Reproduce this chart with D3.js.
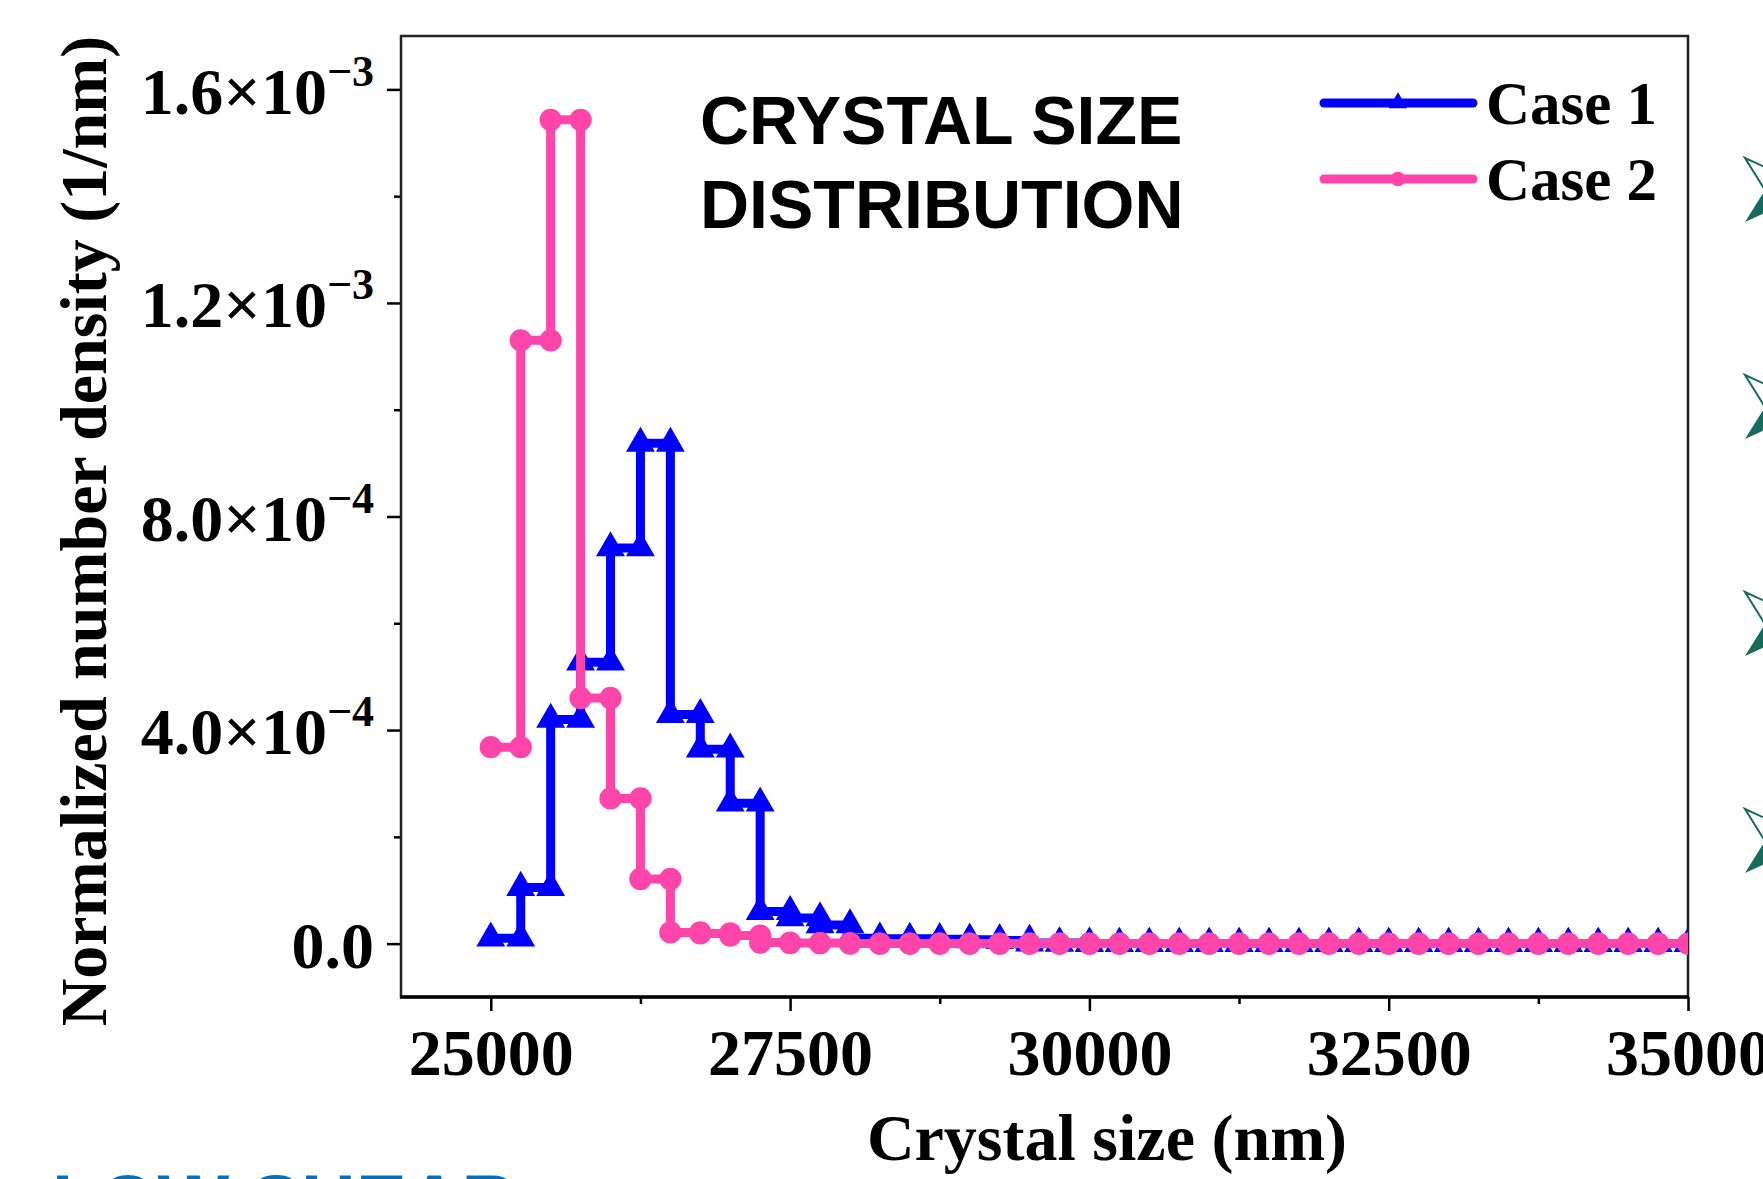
<!DOCTYPE html>
<html>
<head>
<meta charset="utf-8">
<script src="https://cdn.jsdelivr.net/npm/d3@7"></script>
<style>
  body { margin: 0; background: #fff; }
  svg { display: block; }
</style>
</head>
<body>
<div id="chart"></div>
<script>
// --- data (normalized number density, 1/nm), one value per 250 nm bin ---
const binStart = d3.range(25000, 35000, 250);   // left edges of the 40 bins
const binWidth = 250;

const case1 = [
  0.10e-4, 1.05e-4, 4.20e-4, 5.27e-4, 7.41e-4, 9.37e-4, 4.29e-4, 3.64e-4, 2.63e-4, 0.60e-4,
  0.48e-4, 0.35e-4, 0.10e-4, 0.09e-4, 0.09e-4, 0.08e-4, 0.07e-4, 0.06e-4, 0.01e-4, 0.01e-4,
  0, 0, 0, 0, 0, 0, 0, 0, 0, 0,
  0, 0, 0, 0, 0, 0, 0, 0, 0, 0
];
const case2 = [
  3.68e-4, 11.30e-4, 15.43e-4, 4.60e-4, 2.72e-4, 1.21e-4, 0.21e-4, 0.19e-4, 0.15e-4, 0.02e-4,
  0.01e-4, 0.01e-4, 0, 0, 0, 0, 0, 0, 0, 0,
  0, 0, 0, 0, 0, 0, 0, 0, 0, 0,
  0, 0, 0, 0, 0, 0, 0, 0, 0, 0
];

const seriesNames = ["Case 1", "Case 2"];
const xMajor = [25000, 27500, 30000, 32500, 35000];
const xMinor = [26250, 28750, 31250, 33750];
const yMajor = [0, 4e-4, 8e-4, 1.2e-3, 1.6e-3];
const yMinor = [2e-4, 6e-4, 1e-3, 1.4e-3];

const serif = '"Liberation Serif", "Times New Roman", Times, serif';
const sans = '"Liberation Sans", Arial, Helvetica, sans-serif';
const blue = "#0000ff";
const pink = "#ff45aa";

const W = 1763, H = 1179;
const plot = { left: 401, right: 1688, top: 36, bottom: 997 };

const svg = d3.select("#chart").append("svg")
  .attr("width", W)
  .attr("height", H);

const x = d3.scaleLinear().domain([24250, 35000]).range([plot.left, plot.right]);
const y = d3.scaleLinear().domain([-1.0e-4, 1.7e-3]).range([plot.bottom, plot.top]);

svg.append("clipPath").attr("id", "plotClip")
  .append("rect")
  .attr("x", plot.left).attr("y", plot.top)
  .attr("width", plot.right - plot.left)
  .attr("height", plot.bottom - plot.top);

// --- axes ---
function yLabel(v) {
  if (v === 0) return { m: "0.0", e: null };
  const [m, e] = v.toExponential(1).split("e");
  return { m: m, e: String(+e).replace("-", "\u2212") };
}

const yAxis = svg.append("g")
  .attr("transform", `translate(${plot.left},0)`)
  .call(d3.axisLeft(y).tickValues(yMajor).tickSize(14).tickSizeOuter(0).tickPadding(13).tickFormat(""));
yAxis.select(".domain").remove();
yAxis.selectAll(".tick line").attr("stroke", "#000").attr("stroke-width", 2.5);
yAxis.selectAll(".tick text")
  .attr("font-family", serif)
  .attr("font-weight", "bold")
  .attr("font-size", 66)
  .attr("fill", "#000")
  .attr("dy", "0.36em")
  .each(function (d) {
    const lab = yLabel(d);
    const t = d3.select(this);
    t.append("tspan").text(lab.m + (lab.e ? "\u00d710" : ""));
    if (lab.e) {
      t.append("tspan").attr("font-size", 44).attr("dy", -28).text(lab.e);
    }
  });

const yAxisMinor = svg.append("g")
  .attr("transform", `translate(${plot.left},0)`)
  .call(d3.axisLeft(y).tickValues(yMinor).tickSize(7).tickSizeOuter(0).tickFormat(""));
yAxisMinor.select(".domain").remove();
yAxisMinor.selectAll(".tick line").attr("stroke", "#000").attr("stroke-width", 2.5);

const xAxis = svg.append("g")
  .attr("transform", `translate(0,${plot.bottom})`)
  .call(d3.axisBottom(x).tickValues(xMajor).tickSize(14).tickSizeOuter(0).tickPadding(17).tickFormat(d3.format("d")));
xAxis.select(".domain").remove();
xAxis.selectAll(".tick line").attr("stroke", "#000").attr("stroke-width", 2.5);
xAxis.selectAll(".tick text")
  .attr("font-family", serif)
  .attr("font-weight", "bold")
  .attr("font-size", 66)
  .attr("fill", "#000");

const xAxisMinor = svg.append("g")
  .attr("transform", `translate(0,${plot.bottom})`)
  .call(d3.axisBottom(x).tickValues(xMinor).tickSize(7).tickSizeOuter(0).tickFormat(""));
xAxisMinor.select(".domain").remove();
xAxisMinor.selectAll(".tick line").attr("stroke", "#000").attr("stroke-width", 2.5);

// frame
svg.append("rect")
  .attr("x", plot.left).attr("y", plot.top)
  .attr("width", plot.right - plot.left)
  .attr("height", plot.bottom - plot.top)
  .attr("fill", "none")
  .attr("stroke", "#222")
  .attr("stroke-width", 2.5);
svg.append("line")
  .attr("x1", plot.left - 1).attr("x2", plot.right + 1)
  .attr("y1", plot.bottom).attr("y2", plot.bottom)
  .attr("stroke", "#000").attr("stroke-width", 3.5);

// axis titles
svg.append("text")
  .attr("x", 1107).attr("y", 1160)
  .attr("text-anchor", "middle")
  .attr("font-family", serif).attr("font-weight", "bold").attr("font-size", 66)
  .text("Crystal size (nm)");

svg.append("text")
  .attr("transform", "translate(106,531) rotate(-90)")
  .attr("text-anchor", "middle")
  .attr("font-family", serif).attr("font-weight", "bold").attr("font-size", 66)
  .text("Normalized number density (1/nm)");

// --- step series: each bin drawn from its left edge to its right edge ---
function stepPoints(vals) {
  const pts = [];
  vals.forEach((v, i) => {
    pts.push([binStart[i], v]);
    pts.push([binStart[i] + binWidth, v]);
  });
  return pts;
}

const line = d3.line().x(d => x(d[0])).y(d => y(d[1]));
const layer = svg.append("g").attr("clip-path", "url(#plotClip)");

const series = [
  { name: seriesNames[0], vals: case1, color: blue, symbol: d3.symbolTriangle, size: 300 },
  { name: seriesNames[1], vals: case2, color: pink, symbol: d3.symbolCircle, size: 340 }
];

series.forEach(s => {
  const pts = stepPoints(s.vals);
  const g = layer.append("g");
  g.append("path")
    .attr("d", line(pts))
    .attr("fill", "none")
    .attr("stroke", s.color)
    .attr("stroke-width", 9)
    .attr("stroke-linejoin", "miter");
  g.selectAll("path.mk")
    .data(pts)
    .join("path")
    .attr("class", "mk")
    .attr("d", d3.symbol(s.symbol, s.size))
    .attr("transform", d => `translate(${x(d[0])},${y(d[1])})`)
    .attr("fill", s.color)
    .attr("stroke", s.color)
    .attr("stroke-width", 1.5);
});

// --- title inside the plot ---
const title = svg.append("text")
  .attr("font-family", sans).attr("font-weight", "bold").attr("font-size", 68);
title.append("tspan").attr("x", 700).attr("y", 144).text("CRYSTAL SIZE");
title.append("tspan").attr("x", 700).attr("y", 228).text("DISTRIBUTION");

// --- legend ---
const legend = svg.append("g");
series.forEach((s, i) => {
  const ly = 103 + i * 76;
  legend.append("line")
    .attr("x1", 1324).attr("x2", 1473)
    .attr("y1", ly).attr("y2", ly)
    .attr("stroke", s.color).attr("stroke-width", 9)
    .attr("stroke-linecap", "round");
  legend.append("path")
    .attr("d", d3.symbol(s.symbol, i === 0 ? 150 : 170))
    .attr("transform", `translate(1398,${ly})`)
    .attr("fill", s.color);
  legend.append("text")
    .attr("x", 1486).attr("y", ly + 21)
    .attr("font-family", serif).attr("font-weight", "bold").attr("font-size", 61)
    .text(s.name);
});

// --- slide leftovers around the figure ---
const arrowY = [190, 407, 624, 841];
arrowY.forEach(cy => {
  const g = svg.append("g").attr("transform", `translate(1745,${cy - 32})`);
  g.append("path")
    .attr("d", "M0,0 L70,32 L20,32 Z")
    .attr("fill", "#fff").attr("stroke", "#166b5c").attr("stroke-width", 2);
  g.append("path")
    .attr("d", "M20,32 L70,32 L0,64 Z")
    .attr("fill", "#166b5c");
});

svg.append("text")
  .attr("x", 52).attr("y", 1228)
  .attr("font-family", sans).attr("font-weight", "bold").attr("font-size", 76)
  .attr("fill", "#0070c0")
  .text("LOW SHEAR");
</script>
</body>
</html>
